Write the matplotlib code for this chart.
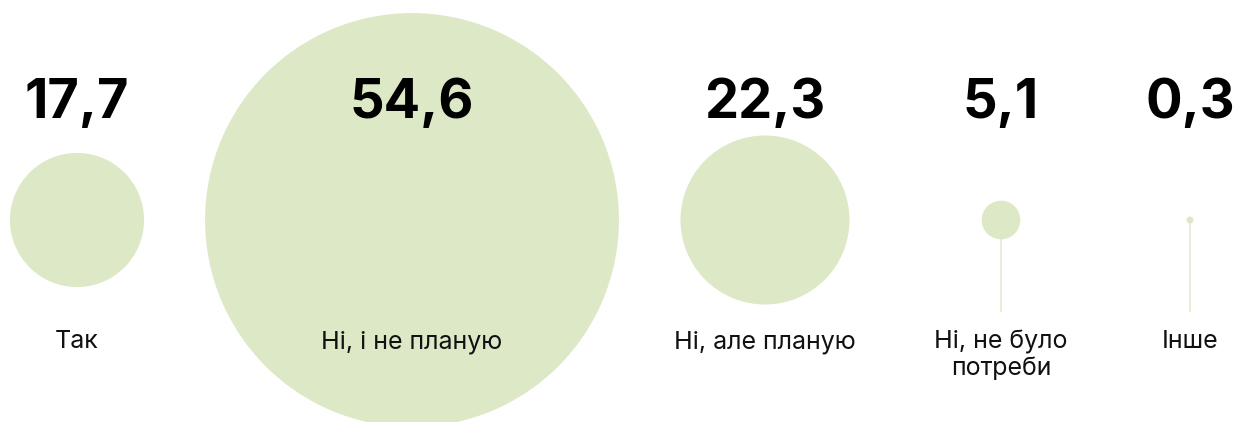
import matplotlib
matplotlib.use('Agg')
import matplotlib.pyplot as plt
from matplotlib.patches import Circle

# Data
categories = ['Так', 'Ні, і не планую', 'Ні, але планую', 'Ні, не було\nпотреби', 'Інше']
values = [17.7, 54.6, 22.3, 5.1, 0.3]

# Layout (pixel coordinates, y grows downward)
W, H = 1236, 422
X_CENTER = [77, 412, 765, 1001, 1190]
Y_CENTER = 220
PX_PER_UNIT = 3.79          # circle radius is proportional to value
MIN_RADIUS = 3.5
STEM_BOTTOM = 312
Y_VALUE = 103
Y_LABEL = 340

FILL = '#dde9c6'
STEM = '#e3edd2'

plt.rcParams['font.family'] = ['Inter', 'DejaVu Sans']

fig = plt.figure(figsize=(W / 100, H / 100), dpi=100)
ax = fig.add_axes([0, 0, 1, 1])
ax.set_xlim(0, W)
ax.set_ylim(H, 0)
ax.set_aspect('equal')
ax.axis('off')

for x, v, cat in zip(X_CENTER, values, categories):
    r = max(v * PX_PER_UNIT, MIN_RADIUS)
    # thin stem only for small circles that don't reach the labels
    if v < 10:
        ax.plot([x, x], [Y_CENTER, STEM_BOTTOM], color=STEM, lw=1.3, zorder=1,
                solid_capstyle='butt')
    ax.add_patch(Circle((x, Y_CENTER), r, facecolor=FILL, edgecolor='none', zorder=2))
    ax.text(x, Y_VALUE, f'{v:.1f}'.replace('.', ','), ha='center', va='center',
            fontsize=39, fontweight='bold', color='black', zorder=3)
    ax.text(x, Y_LABEL - 10, cat, ha='center', va='top', fontsize=18,
            color='#111111', linespacing=1.15, zorder=3)

fig.savefig('out.png', dpi=100)
